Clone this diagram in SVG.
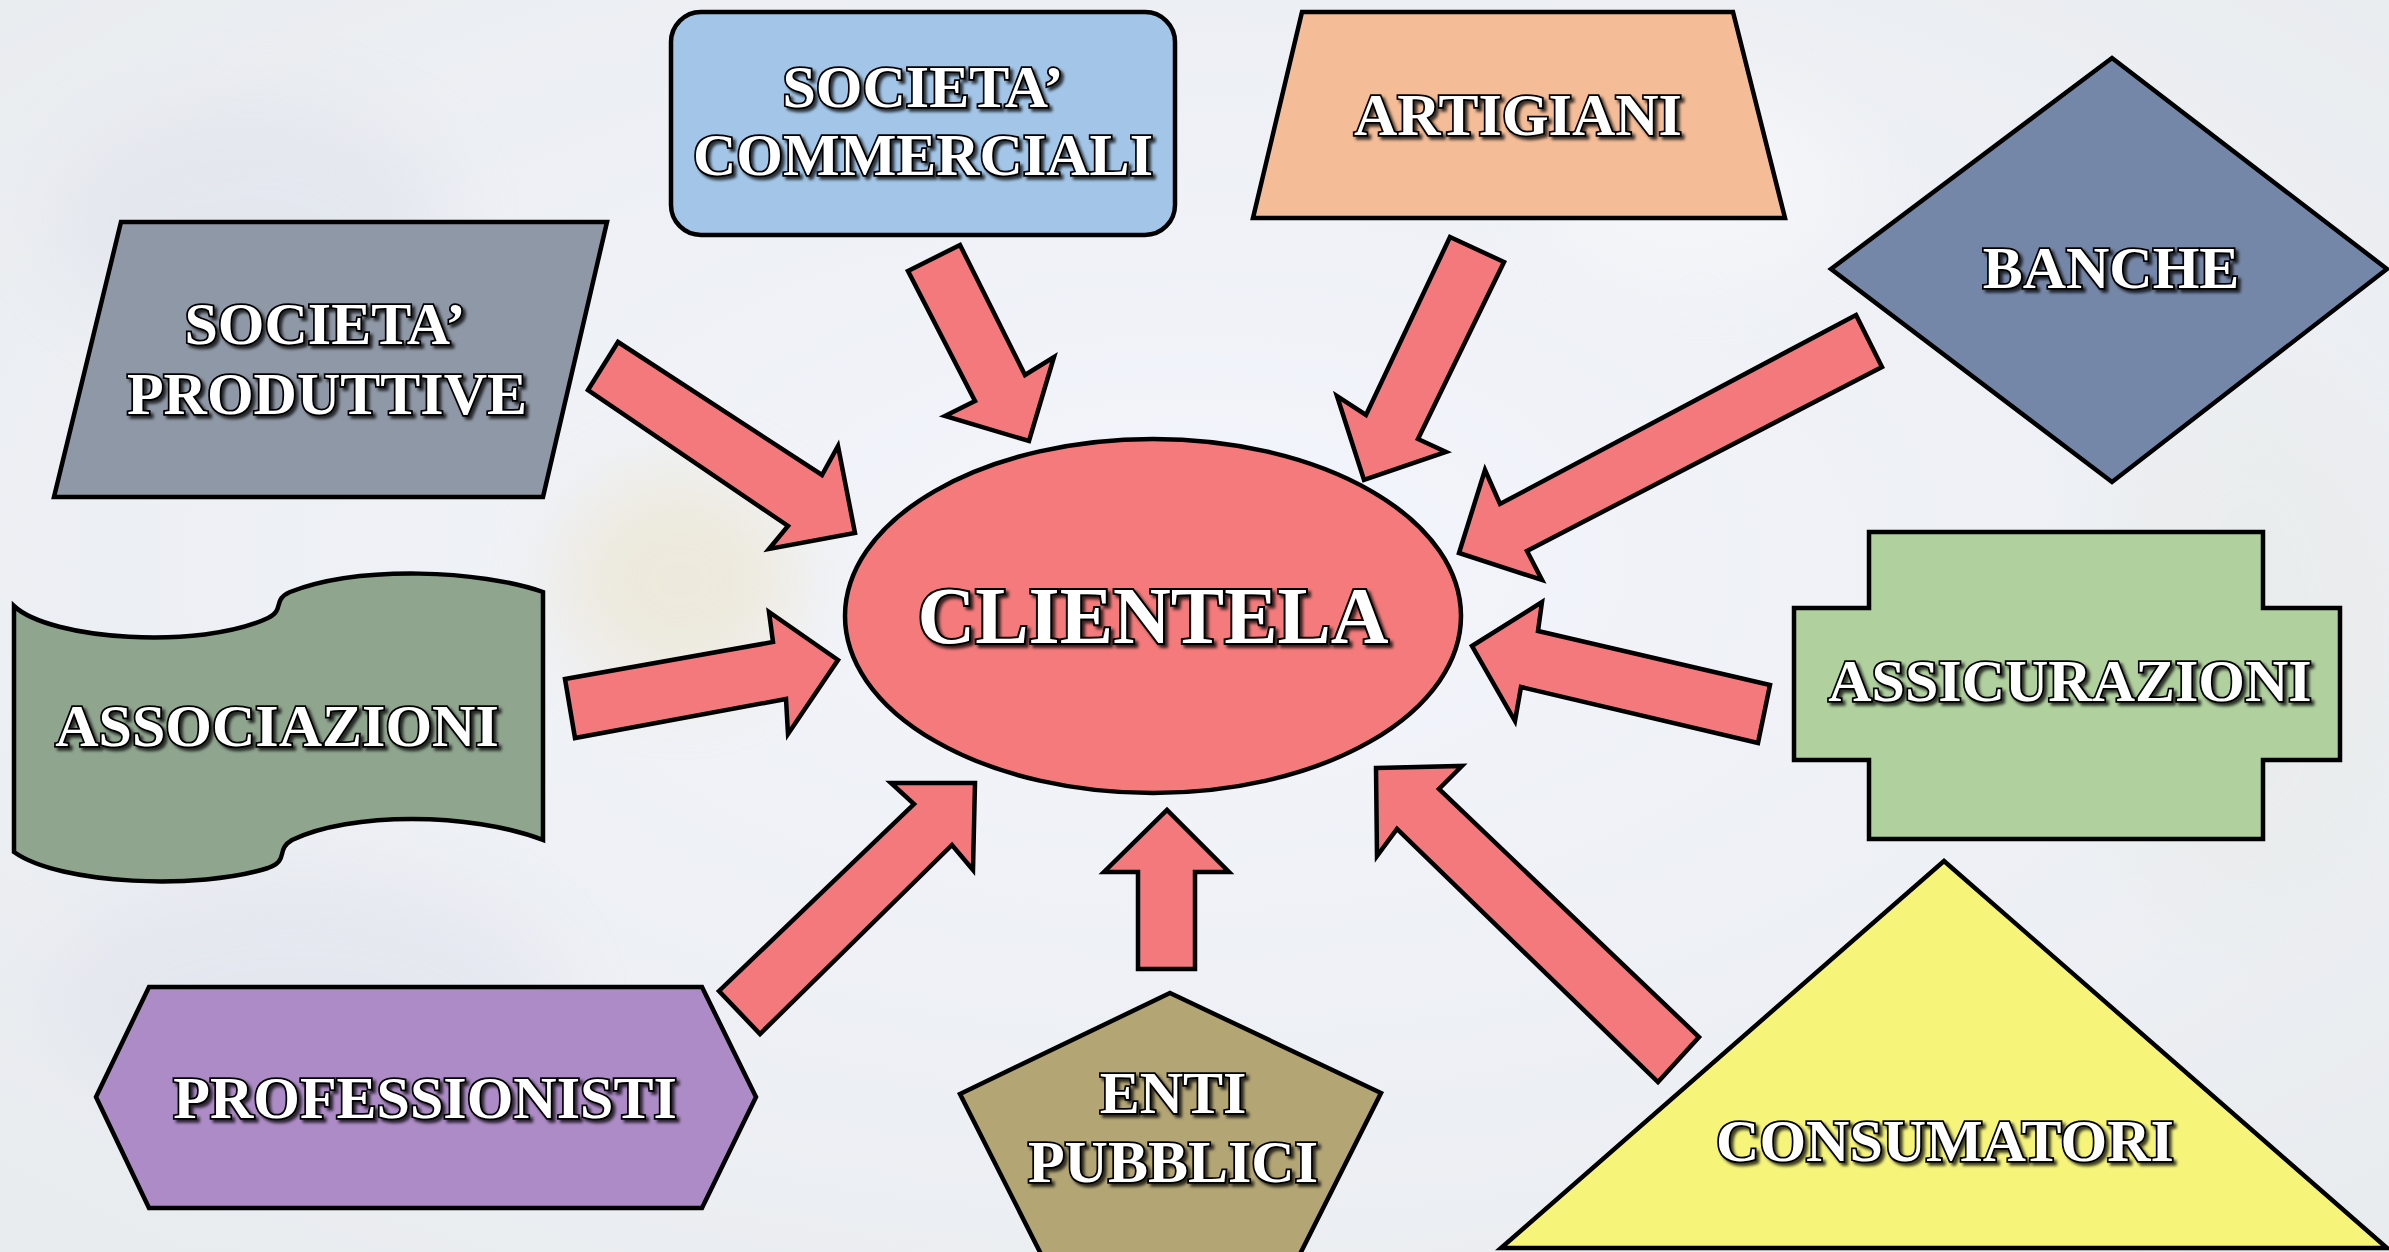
<svg xmlns="http://www.w3.org/2000/svg" width="2389" height="1252" viewBox="0 0 2389 1252">
<defs>
<style>
.shape{stroke:#000;stroke-width:4.5;stroke-linejoin:miter}
.arrow{fill:#F4797C;stroke:#000;stroke-width:4.5;stroke-linejoin:miter}
.lbl{font-family:"Liberation Serif","Times New Roman",serif;font-weight:bold;font-size:60px;fill:#fff;stroke:#000;stroke-width:3.5;paint-order:stroke;text-anchor:middle;filter:url(#sh)}
.big{font-size:80px;stroke-width:4}
</style>
<filter id="sh" x="-10%" y="-30%" width="120%" height="160%">
<feDropShadow dx="3" dy="3" stdDeviation="1.5" flood-color="#000" flood-opacity="0.75"/>
</filter>
<filter id="blur" x="-50%" y="-50%" width="200%" height="200%"><feGaussianBlur stdDeviation="40"/></filter>
<radialGradient id="bg" cx="50%" cy="45%" r="70%">
<stop offset="0" stop-color="#F3F5FC"/>
<stop offset="1" stop-color="#E9ECEF"/>
</radialGradient>
</defs>
<rect x="0" y="0" width="2389" height="1252" fill="url(#bg)"/>
<g opacity="0.35" filter="url(#blur)">
<ellipse cx="250" cy="220" rx="200" ry="120" fill="#D6DAE6"/>
<ellipse cx="680" cy="580" rx="120" ry="110" fill="#E8D9A8"/>
<ellipse cx="1700" cy="180" rx="160" ry="100" fill="#FFFFFF"/>
<ellipse cx="300" cy="1000" rx="260" ry="130" fill="#D8DBE8"/>
<ellipse cx="2250" cy="650" rx="160" ry="260" fill="#E6E9E2"/>
</g>

<g id="connectors">
<polygon class="arrow" points="908,271 960,245 1025,375 1054,357 1029,441 945,416 975,401"/>
<polygon class="arrow" points="588,390 618,342 822,475 838,446 855,533 769,549 788,526"/>
<polygon class="arrow" points="565,679 773,642 769,612 838,660 788,734 786,699 575,738"/>
<polygon class="arrow" points="719,991 914,804 891,783 975,783 973,870 952,845 760,1034"/>
<polygon class="arrow" points="1138,969 1138,872 1104,872 1167,810 1229,872 1195,872 1195,969"/>
<polygon class="arrow" points="1376,768 1462,766 1439,789 1699,1037 1658,1082 1397,829 1377,856"/>
<polygon class="arrow" points="1472,646 1542,602 1538,631 1770,685 1758,743 1521,687 1515,721"/>
<polygon class="arrow" points="1856,315 1882,367 1527,551 1542,580 1459,553 1485,470 1500,504"/>
<polygon class="arrow" points="1450,237 1504,262 1418,439 1446,452 1364,480 1337,396 1366,415"/>
</g>

<g id="clientela">
<ellipse class="shape" cx="1153" cy="616" rx="308" ry="177" fill="#F47A7B"/>
<text class="lbl big" x="1153" y="643">CLIENTELA</text>
</g>

<g id="societa-commerciali">
<rect class="shape" x="671" y="12" width="504" height="223" rx="30" fill="#A3C6E8"/>
<text class="lbl" x="923" y="107">SOCIETA’</text>
<text class="lbl" x="923" y="175">COMMERCIALI</text>
</g>

<g id="artigiani">
<polygon class="shape" points="1302,12 1733,12 1785,218 1253,218" fill="#F4BC97"/>
<text class="lbl" x="1518" y="135">ARTIGIANI</text>
</g>

<g id="banche">
<polygon class="shape" points="2112,58 2387,269 2112,482 1831,269" fill="#7587A8"/>
<text class="lbl" x="2111" y="288">BANCHE</text>
</g>

<g id="societa-produttive">
<polygon class="shape" points="121,222 607,222 543,497 54,497" fill="#8F98A6"/>
<text class="lbl" x="325" y="344">SOCIETA’</text>
<text class="lbl" x="327" y="414">PRODUTTIVE</text>
</g>

<g id="associazioni">
<path class="shape" fill="#8FA58E" d="M14,606 C50,640 200,650 268,618 C285,610 272,600 290,592 C360,565 480,570 543,592 L543,840 C470,812 350,812 292,840 C275,850 290,860 268,868 C200,890 60,885 14,852 Z"/>
<text class="lbl" x="277" y="746">ASSOCIAZIONI</text>
</g>

<g id="assicurazioni">
<polygon class="shape" points="1869,532 2263,532 2263,608 2340,608 2340,760 2263,760 2263,839 1869,839 1869,760 1794,760 1794,608 1869,608" fill="#B0D09E"/>
<text class="lbl" x="2070" y="701">ASSICURAZIONI</text>
</g>

<g id="professionisti">
<polygon class="shape" points="96,1097 149,987 702,987 756,1097 702,1208 149,1208" fill="#AD8BC6"/>
<text class="lbl" x="425" y="1118">PROFESSIONISTI</text>
</g>

<g id="enti-pubblici">
<polygon class="shape" points="1170,993 1381,1093 1296,1262 1045,1262 960,1094" fill="#B3A574"/>
<text class="lbl" x="1173" y="1113">ENTI</text>
<text class="lbl" x="1173" y="1182">PUBBLICI</text>
</g>

<g id="consumatori">
<polygon class="shape" points="1944,861 2387,1248 1501,1248" fill="#F6F57A"/>
<text class="lbl" x="1945" y="1161">CONSUMATORI</text>
</g>
</svg>
